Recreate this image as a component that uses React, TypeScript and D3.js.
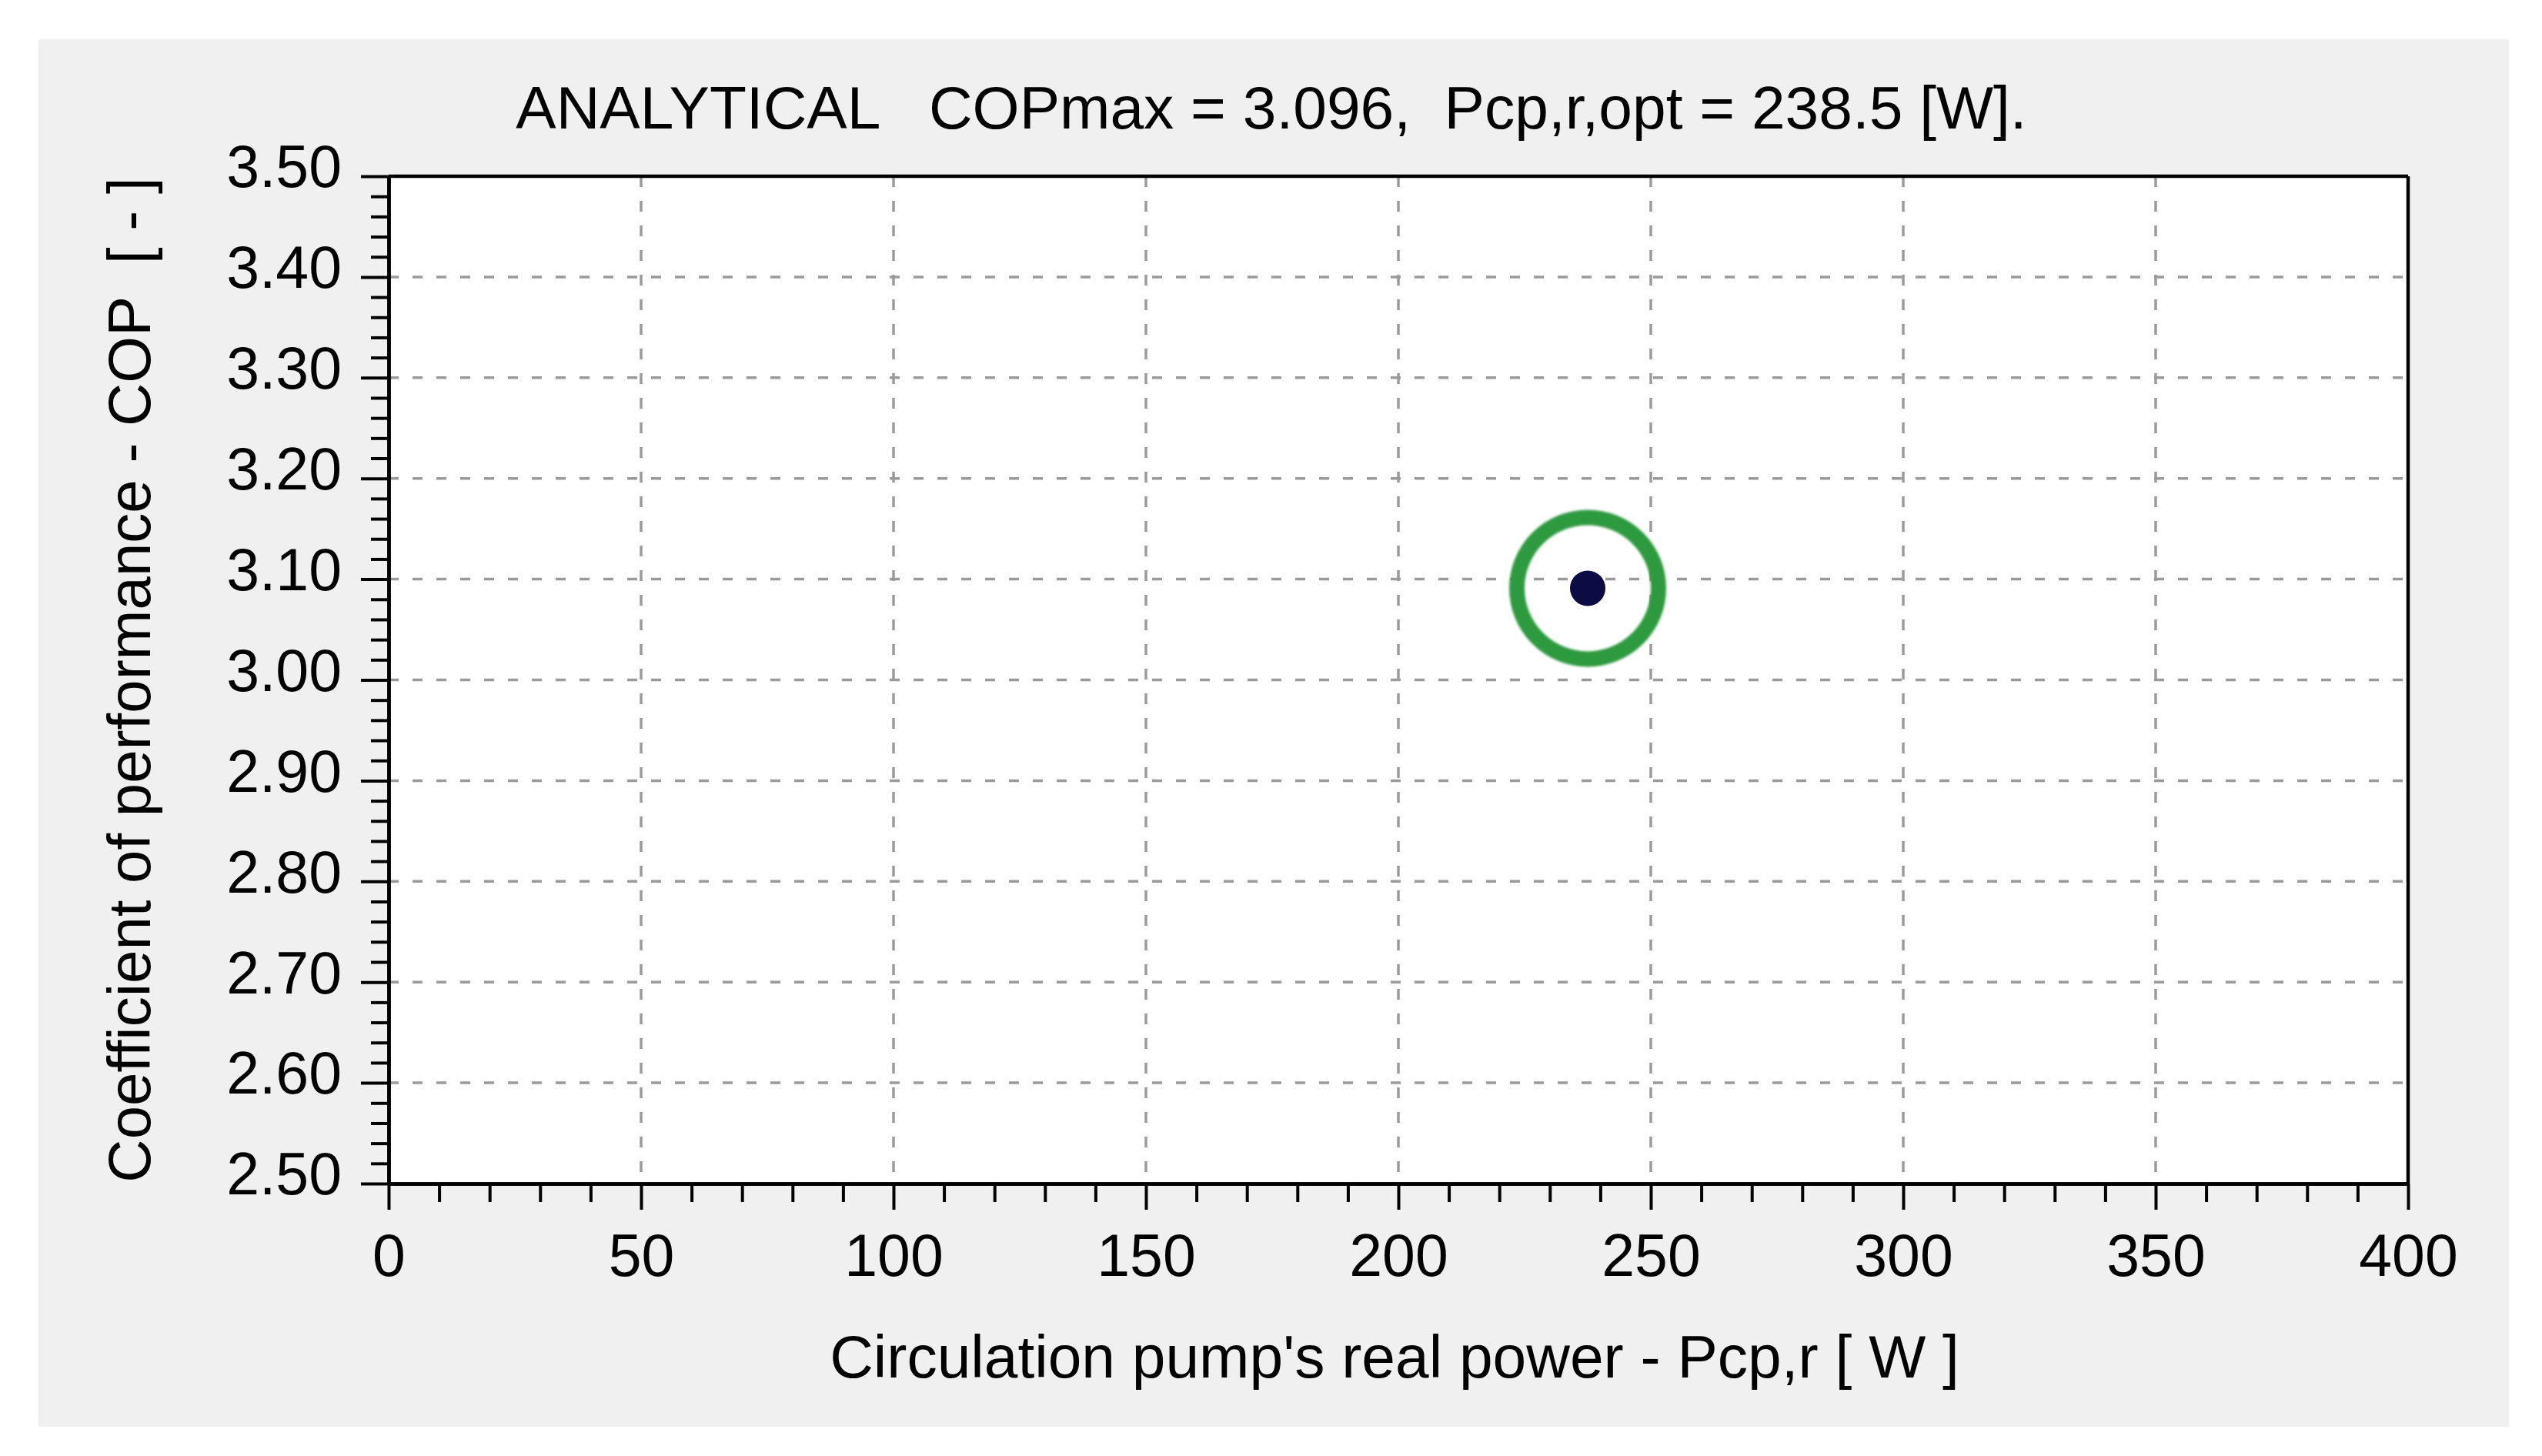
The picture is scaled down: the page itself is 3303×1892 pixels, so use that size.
import React, { useEffect, useRef } from 'react';
import * as d3 from 'd3';

// values
const xDomain = [0, 400];
const yDomain = [2.5, 3.5];
const xMajorTicks = [0, 50, 100, 150, 200, 250, 300, 350, 400];
const xMinorTicks = d3.range(0, 401, 10).filter(v => v % 50 !== 0);
const yMajorTicks = [2.5, 2.6, 2.7, 2.8, 2.9, 3.0, 3.1, 3.2, 3.3, 3.4, 3.5];
const yMinorTicks = d3.range(0, 51).map(i => 2.5 + i * 0.02).filter((v, i) => i % 5 !== 0);
const xGrid = [50, 100, 150, 200, 250, 300, 350];
const yGrid = [2.6, 2.7, 2.8, 2.9, 3.0, 3.1, 3.2, 3.3, 3.4];
const optPower = [237.5];
const optCop = [3.091];

const titleText = 'ANALYTICAL   COPmax = 3.096,  Pcp,r,opt = 238.5 [W].';
const xTitle = "Circulation pump's real power - Pcp,r [ W ]";
const yTitle = 'Coefficient of performance - COP  [ - ]';

const App = () => {
  const svgRef = useRef<SVGSVGElement>(null);

  useEffect(() => {
    document.body.style.margin = '0';
    document.body.style.overflow = 'hidden';

    const W = 3303;
    const H = 1892;
    const margin = { top: 229, right: 174, bottom: 354, left: 505 };
    const innerW = W - margin.left - margin.right;
    const innerH = H - margin.top - margin.bottom;
    const font = '"Liberation Sans", Arial, sans-serif';

    const svg = d3.select(svgRef.current).attr('width', W).attr('height', H);
    svg.selectAll('*').remove();

    // grey panel
    svg.append('rect')
       .attr('x', 50).attr('y', 51)
       .attr('width', 3210).attr('height', 1803)
       .attr('fill', '#f0f0f0');

    const g = svg.append('g').attr('transform', `translate(${margin.left},${margin.top})`);

    const x = d3.scaleLinear().domain(xDomain).range([0, innerW]);
    const y = d3.scaleLinear().domain(yDomain).range([innerH, 0]);

    g.append('rect').attr('width', innerW).attr('height', innerH).attr('fill', '#fff');

    // dashed grid
    g.selectAll('.hgrid')
     .data(yGrid)
     .join('line')
     .attr('x1', 0).attr('x2', innerW)
     .attr('y1', d => y(d)).attr('y2', d => y(d))
     .attr('stroke', '#9a9a9a').attr('stroke-width', 3.5)
     .attr('stroke-dasharray', '13 18');

    g.selectAll('.vgrid')
     .data(xGrid)
     .join('line')
     .attr('x1', d => x(d)).attr('x2', d => x(d))
     .attr('y1', 0).attr('y2', innerH)
     .attr('stroke', '#9a9a9a').attr('stroke-width', 3.5)
     .attr('stroke-dasharray', '14 18');

    // top and right frame
    g.append('line').attr('x1', 0).attr('x2', innerW).attr('y1', 0).attr('y2', 0)
     .attr('stroke', '#000').attr('stroke-width', 4.5);
    g.append('line').attr('x1', innerW).attr('x2', innerW).attr('y1', 0).attr('y2', innerH)
     .attr('stroke', '#000').attr('stroke-width', 4.5);

    // axes
    const styleAxis = (sel) => {
      sel.select('.domain').attr('stroke-width', 4.5);
      sel.selectAll('.tick line').attr('stroke-width', 4);
      sel.selectAll('text').attr('font-family', font).attr('font-size', 77).attr('fill', '#000');
    };

    g.append('g')
     .attr('transform', `translate(0,${innerH})`)
     .call(d3.axisBottom(x).tickValues(xMinorTicks).tickSize(24).tickSizeOuter(0).tickFormat(() => ''))
     .call(styleAxis);

    g.append('g')
     .attr('transform', `translate(0,${innerH})`)
     .call(d3.axisBottom(x).tickValues(xMajorTicks).tickSize(34).tickSizeOuter(0).tickPadding(31))
     .call(styleAxis);

    g.append('g')
     .call(d3.axisLeft(y).tickValues(yMinorTicks).tickSize(23).tickSizeOuter(0).tickFormat(() => ''))
     .call(styleAxis);

    const yAxis = g.append('g')
     .call(d3.axisLeft(y).tickValues(yMajorTicks).tickSize(36).tickSizeOuter(0).tickPadding(25)
       .tickFormat(d3.format('.2f')))
     .call(styleAxis);
    yAxis.selectAll('text').attr('dy', '0.18em');

    // optimum marker
    const defs = svg.append('defs');
    defs.append('filter').attr('id', 'soft')
        .append('feGaussianBlur').attr('stdDeviation', 1.6);

    g.selectAll('.ring')
     .data(optPower)
     .join('circle')
     .attr('cx', d => x(d))
     .attr('cy', (d, i) => y(optCop[i]))
     .attr('r', 92)
     .attr('fill', 'none')
     .attr('stroke', '#2e9a40')
     .attr('stroke-width', 20)
     .attr('filter', 'url(#soft)');

    g.selectAll('.dot')
     .data(optPower)
     .join('circle')
     .attr('cx', d => x(d))
     .attr('cy', (d, i) => y(optCop[i]))
     .attr('r', 23)
     .attr('fill', '#0c0c44');

    // titles
    svg.append('text')
       .attr('x', 1652).attr('y', 167)
       .attr('text-anchor', 'middle')
       .attr('font-family', font).attr('font-size', 78.5)
       .style('white-space', 'pre')
       .text(titleText);

    svg.append('text')
       .attr('x', 1812).attr('y', 1790)
       .attr('text-anchor', 'middle')
       .attr('font-family', font).attr('font-size', 78.5)
       .style('white-space', 'pre')
       .text(xTitle);

    svg.append('text')
       .attr('transform', `translate(195,${margin.top + innerH / 2}) rotate(-90)`)
       .attr('text-anchor', 'middle')
       .attr('font-family', font).attr('font-size', 78)
       .style('white-space', 'pre')
       .text(yTitle);
  }, []);

  return <svg ref={svgRef} style={{ display: 'block' }}></svg>;
};

export default App;
